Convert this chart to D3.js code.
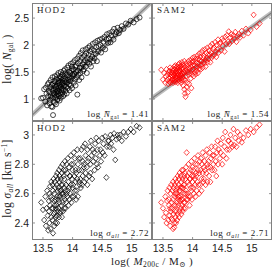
<!DOCTYPE html>
<html>
<head>
<meta charset="utf-8">
<script src="https://cdn.jsdelivr.net/npm/d3@7"></script>
<style>
  body { margin: 0; background: #fff; }
  text { fill: #222; }
  .serif { font-family: "Liberation Serif", "DejaVu Serif", serif; }
  .tick { font-family: "Liberation Sans", Arial, sans-serif; font-size: 10.5px; }
</style>
</head>
<body>
<script>
// halo masses, log(M200c / Msun), sorted
const logM = [
  13.47, 13.50, 13.52, 13.54, 13.55, 13.56, 13.57, 13.58, 13.59, 13.60,
  13.60, 13.61, 13.61, 13.62, 13.62, 13.63, 13.63, 13.64, 13.64, 13.65,
  13.65, 13.66, 13.66, 13.67, 13.67, 13.67, 13.68, 13.68, 13.69, 13.69,
  13.69, 13.70, 13.70, 13.70, 13.71, 13.71, 13.71, 13.72, 13.72, 13.72,
  13.73, 13.73, 13.73, 13.74, 13.74, 13.74, 13.75, 13.75, 13.75, 13.76,
  13.76, 13.76, 13.77, 13.77, 13.77, 13.78, 13.78, 13.78, 13.79, 13.79,
  13.79, 13.80, 13.80, 13.80, 13.81, 13.81, 13.81, 13.82, 13.82, 13.82,
  13.83, 13.83, 13.83, 13.84, 13.84, 13.85, 13.85, 13.85, 13.86, 13.86,
  13.86, 13.87, 13.87, 13.88, 13.88, 13.88, 13.89, 13.89, 13.90, 13.90,
  13.91, 13.91, 13.92, 13.92, 13.93, 13.93, 13.94, 13.94, 13.95, 13.95,
  13.96, 13.96, 13.97, 13.97, 13.98, 13.98, 13.99, 13.99, 14.00, 14.00,
  14.01, 14.01, 14.02, 14.02, 14.03, 14.04, 14.04, 14.05, 14.05, 14.06,
  14.06, 14.07, 14.08, 14.08, 14.09, 14.09, 14.10, 14.11, 14.11, 14.12,
  14.13, 14.13, 14.14, 14.15, 14.15, 14.16, 14.17, 14.17, 14.18, 14.19,
  14.19, 14.20, 14.21, 14.22, 14.22, 14.23, 14.24, 14.25, 14.25, 14.26,
  14.27, 14.28, 14.29, 14.30, 14.30, 14.31, 14.32, 14.33, 14.34, 14.35,
  14.36, 14.37, 14.38, 14.39, 14.40, 14.41, 14.42, 14.43, 14.44, 14.46,
  14.47, 14.48, 14.50, 14.51, 14.52, 14.54, 14.55, 14.57, 14.58, 14.60,
  14.61, 14.62, 14.64, 14.65, 14.67, 14.69, 14.70, 14.72, 14.74, 14.76,
  14.78, 14.80, 14.83, 14.86, 14.90, 14.94, 14.98, 15.03, 15.08, 15.13
];

// log N_gal, HOD2
const hodNgal = [
  1.01, 1.02, 1.18, 0.95, 1.21, 1.10, 0.88, 1.27, 1.05, 1.15,
  1.30, 0.92, 1.12, 1.22, 0.98, 1.35, 1.05, 0.86, 1.18, 1.26,
  1.02, 1.40, 0.85, 0.70, 1.15, 1.28, 0.95, 1.20, 1.08, 1.33,
  1.10, 0.93, 1.25, 1.42, 1.03, 1.18, 1.31, 0.90, 1.22, 1.12,
  1.37, 1.06, 1.24, 0.98, 1.15, 1.44, 1.28, 1.09, 1.00, 1.33,
  1.20, 1.48, 1.05, 1.30, 1.14, 1.38, 0.97, 1.26, 1.42, 1.10,
  1.32, 1.02, 1.22, 1.50, 1.16, 1.40, 1.08, 1.28, 1.35, 1.19,
  1.12, 1.45, 1.30, 1.05, 1.38, 1.24, 1.52, 1.18, 1.33, 1.08,
  1.42, 1.25, 1.55, 1.15, 1.36, 1.48, 1.22, 1.31, 1.10, 1.45,
  1.30, 1.58, 1.20, 1.44, 1.35, 1.62, 1.27, 1.50, 1.16, 1.40,
  1.48, 1.33, 1.65, 1.25, 1.52, 1.38, 1.60, 1.20, 1.45, 1.55,
  1.42, 1.68, 1.30, 1.55, 1.46, 1.72, 1.36, 1.60, 1.25, 1.50,
  1.62, 1.40, 1.75, 1.08, 1.52, 1.66, 1.45, 1.80, 1.35, 1.58,
  1.70, 1.48, 1.85, 1.58, 1.40, 1.76, 1.64, 1.90, 1.52, 1.68,
  1.55, 1.80, 1.72, 1.92, 1.60, 1.85, 1.48, 1.76, 1.68, 1.95,
  1.82, 1.65, 1.98, 1.74, 1.88, 1.60, 1.92, 1.78, 2.02, 1.70,
  1.90, 1.75, 2.05, 1.84, 1.96, 1.70, 2.08, 1.88, 1.98, 2.10,
  2.00, 1.86, 2.12, 1.95, 2.06, 2.15, 1.92, 2.10, 2.20, 2.04,
  2.12, 2.22, 2.05, 2.18, 2.25, 2.10, 2.30, 2.20, 2.24, 2.32,
  2.22, 2.28, 2.35, 2.30, 2.40, 2.38, 2.45, 2.42, 2.48, 2.51
];

// log N_gal, SAM2
const samNgal = [
  1.54, 1.36, 1.48, 1.30, 1.42, 1.55, 1.35, 1.45, 1.28, 1.50,
  1.38, 1.52, 1.32, 1.46, 1.58, 1.40, 1.30, 1.50, 1.44, 1.35,
  1.48, 1.36, 1.56, 1.42, 1.30, 1.52, 1.45, 1.38, 1.60, 1.33,
  1.44, 1.55, 1.35, 1.48, 1.40, 1.62, 1.31, 1.50, 1.42, 1.57,
  1.38, 1.52, 1.46, 1.34, 1.60, 1.42, 1.55, 1.30, 1.48, 1.64,
  1.45, 1.36, 1.58, 1.50, 1.40, 1.66, 1.33, 1.54, 1.44, 1.60,
  1.52, 1.38, 1.62, 1.46, 1.30, 1.56, 1.42, 1.68, 1.48, 1.35,
  1.40, 1.58, 1.46, 1.25, 1.64, 1.50, 1.36, 1.55, 1.18, 1.70,
  1.48, 1.10, 1.60, 1.35, 1.52, 1.04, 1.66, 1.42, 1.22, 1.56,
  1.62, 1.30, 1.50, 1.12, 1.70, 1.45, 1.58, 1.28, 1.55, 1.66,
  1.48, 1.72, 1.38, 1.60, 1.52, 1.20, 1.68, 1.45, 1.62, 1.76,
  1.55, 1.70, 1.42, 1.64, 1.78, 1.50, 1.62, 1.46, 1.74, 1.58,
  1.68, 1.52, 1.80, 1.60, 1.74, 1.48, 1.66, 1.84, 1.56, 1.72,
  1.62, 1.78, 1.55, 1.86, 1.70, 1.64, 1.90, 1.58, 1.76, 1.68,
  1.80, 1.66, 1.92, 1.72, 1.60, 1.85, 1.76, 1.95, 1.68, 1.82,
  1.74, 1.90, 1.82, 1.68, 1.98, 1.86, 1.76, 2.02, 1.80, 1.92,
  1.95, 1.82, 2.05, 1.88, 1.78, 2.00, 1.92, 2.10, 1.86, 2.02,
  2.05, 1.90, 2.12, 1.98, 2.08, 1.88, 2.15, 2.02, 2.18, 2.06,
  2.25, 2.02, 2.14, 2.20, 2.08, 2.18, 2.12, 2.24, 2.06, 2.16,
  2.20, 2.14, 2.26, 2.18, 2.30, 2.22, 2.28, 2.56, 2.34, 2.40
];

// log sigma_all [km/s], HOD2
const hodSigma = [
  2.54, 2.49, 2.42, 2.58, 2.38, 2.50, 2.62, 2.45, 2.35, 2.55,
  2.48, 2.60, 2.40, 2.65, 2.52, 2.36, 2.58, 2.44, 2.68, 2.50,
  2.56, 2.42, 2.66, 2.33, 2.50, 2.62, 2.46, 2.70, 2.38, 2.55,
  2.60, 2.47, 2.68, 2.52, 2.40, 2.64, 2.56, 2.44, 2.72, 2.50,
  2.52, 2.66, 2.45, 2.74, 2.58, 2.40, 2.62, 2.70, 2.48, 2.56,
  2.64, 2.50, 2.76, 2.58, 2.44, 2.68, 2.54, 2.72, 2.62, 2.47,
  2.58, 2.70, 2.48, 2.78, 2.62, 2.52, 2.66, 2.44, 2.74, 2.60,
  2.66, 2.54, 2.80, 2.60, 2.48, 2.72, 2.58, 2.76, 2.50, 2.64,
  2.70, 2.56, 2.82, 2.62, 2.50, 2.76, 2.66, 2.54, 2.80, 2.60,
  2.58, 2.74, 2.62, 2.84, 2.68, 2.52, 2.78, 2.64, 2.72, 2.56,
  2.72, 2.60, 2.86, 2.66, 2.54, 2.80, 2.70, 2.58, 2.76, 2.64,
  2.66, 2.80, 2.58, 2.88, 2.72, 2.62, 2.84, 2.68, 2.76, 2.56,
  2.74, 2.62, 2.90, 2.70, 2.80, 2.58, 2.84, 2.68, 2.76, 2.66,
  2.70, 2.84, 2.64, 2.90, 2.76, 2.66, 2.82, 2.72, 2.92, 2.78,
  2.80, 2.68, 2.94, 2.74, 2.86, 2.70, 2.78, 2.90, 2.66, 2.82,
  2.84, 2.72, 2.92, 2.80, 2.74, 2.96, 2.86, 2.70, 2.90, 2.82,
  2.88, 2.76, 2.94, 2.84, 2.98, 2.80, 2.90, 2.78, 2.96, 2.86,
  2.90, 2.82, 2.98, 2.88, 2.94, 2.86, 2.99, 2.71, 2.92, 2.96,
  2.96, 2.92, 3.00, 2.94, 2.98, 2.90, 3.01, 2.83, 2.97, 3.00,
  2.98, 3.00, 2.96, 3.02, 2.99, 3.02, 3.04, 3.02, 3.06, 3.05
];

// log sigma_all [km/s], SAM2
const samSigma = [
  2.54, 2.50, 2.44, 2.58, 2.47, 2.40, 2.55, 2.62, 2.42, 2.52,
  2.56, 2.45, 2.64, 2.50, 2.38, 2.60, 2.48, 2.66, 2.43, 2.54,
  2.50, 2.62, 2.42, 2.68, 2.36, 2.56, 2.46, 2.64, 2.52, 2.40,
  2.37, 2.58, 2.66, 2.48, 2.60, 2.44, 2.70, 2.52, 2.40, 2.62,
  2.60, 2.48, 2.68, 2.54, 2.42, 2.64, 2.58, 2.72, 2.46, 2.56,
  2.52, 2.66, 2.44, 2.70, 2.58, 2.62, 2.48, 2.74, 2.55, 2.64,
  2.62, 2.50, 2.72, 2.58, 2.46, 2.68, 2.56, 2.76, 2.52, 2.64,
  2.56, 2.70, 2.48, 2.64, 2.76, 2.54, 2.66, 2.50, 2.72, 2.60,
  2.66, 2.54, 2.74, 2.60, 2.50, 2.70, 2.62, 2.78, 2.56, 2.88,
  2.60, 2.72, 2.56, 2.68, 2.80, 2.58, 2.66, 2.74, 2.52, 2.70,
  2.70, 2.58, 2.76, 2.64, 2.82, 2.62, 2.72, 2.56, 2.78, 2.68,
  2.64, 2.76, 2.60, 2.72, 2.84, 2.66, 2.70, 2.58, 2.80, 2.74,
  2.72, 2.62, 2.80, 2.68, 2.76, 2.86, 2.66, 2.74, 2.60, 2.82,
  2.76, 2.66, 2.84, 2.70, 2.62, 2.80, 2.74, 2.88, 2.68, 2.78,
  2.70, 2.82, 2.76, 2.66, 2.86, 2.74, 2.90, 2.80, 2.68, 2.78,
  2.82, 2.72, 2.88, 2.78, 2.68, 2.84, 2.92, 2.76, 2.86, 2.80,
  2.86, 2.76, 2.92, 2.82, 2.72, 2.88, 2.96, 2.80, 2.90, 2.84,
  2.88, 2.94, 2.80, 2.98, 2.86, 2.92, 3.02, 2.84, 2.90, 2.96,
  2.96, 2.90, 3.00, 2.94, 2.92, 3.04, 2.93, 2.98, 2.92, 3.02,
  2.96, 3.00, 2.95, 2.98, 3.03, 3.00, 3.04, 3.02, 3.05, 3.07
];

// straight-line fits to log N_gal (value at logM = 14 and slope)
const fitAt14 = [1.41, 1.55];
const fitSlope = [1.04, 0.785];

const meanText = ["1.41", "1.54", "2.72", "2.71"];
const modelNames = ["HOD2", "SAM2"];

const xTicks = [13.5, 14, 14.5, 15];
const nTicks = [1, 1.5, 2, 2.5];
const sigmaTicks = [2.4, 2.6, 2.8, 3];

const width = 275, height = 270;
const marginLeft = 32, marginTop = 3, pw = 120;
const ph = [118, 119];

const svg = d3.select("body").append("svg")
  .attr("width", width)
  .attr("height", height);

const x = d3.scaleLinear().domain([13.315, 15.34]).range([0, pw]);
const yScales = [
  d3.scaleLinear().domain([0.59, 2.78]).range([ph[0], 0]),
  d3.scaleLinear().domain([2.284, 3.095]).range([ph[1], 0])
];
const yTickSets = [nTicks, sigmaTicks];

const panels = [
  { row: 0, col: 0, ys: hodNgal, color: "#000", shape: "circle" },
  { row: 0, col: 1, ys: samNgal, color: "#ff0000", shape: "diamond" },
  { row: 1, col: 0, ys: hodSigma, color: "#000", shape: "diamond" },
  { row: 1, col: 1, ys: samSigma, color: "#ff0000", shape: "diamond" }
];

const diamond = "M0,-2.9L2.6,0L0,2.9L-2.6,0Z";

panels.forEach((p, i) => {
  const y = yScales[p.row];
  const h = ph[p.row];
  const ox = marginLeft + p.col * pw;
  const oy = marginTop + (p.row === 0 ? 0 : ph[0]);
  const g = svg.append("g").attr("transform", `translate(${ox},${oy})`);

  g.append("clipPath").attr("id", "clip" + i)
    .append("rect").attr("width", pw).attr("height", h);

  const plot = g.append("g").attr("clip-path", `url(#clip${i})`);

  // fitted line (top row only)
  if (p.row === 0) {
    const line = x.domain().map(v => [x(v), y(fitAt14[p.col] + fitSlope[p.col] * (v - 14))]);
    plot.append("line")
      .attr("x1", line[0][0]).attr("y1", line[0][1])
      .attr("x2", line[1][0]).attr("y2", line[1][1])
      .attr("stroke", "#bdbdbd").attr("stroke-width", 4.5);
    plot.append("line")
      .attr("x1", line[0][0]).attr("y1", line[0][1])
      .attr("x2", line[1][0]).attr("y2", line[1][1])
      .attr("stroke", "#808080").attr("stroke-width", 1.2);
  }

  const pts = logM.map((m, k) => [m, p.ys[k]]);
  if (p.shape === "circle") {
    plot.selectAll("circle").data(pts).enter().append("circle")
      .attr("cx", d => x(d[0]))
      .attr("cy", d => y(d[1]))
      .attr("r", 2.5)
      .attr("fill", "none")
      .attr("stroke", p.color)
      .attr("stroke-width", 0.7);
  } else {
    plot.selectAll("path").data(pts).enter().append("path")
      .attr("d", diamond)
      .attr("transform", d => `translate(${x(d[0])},${y(d[1])})`)
      .attr("fill", "none")
      .attr("stroke", p.color)
      .attr("stroke-width", 0.7);
  }

  // inward ticks on all four sides
  const tk = 3;
  const tickG = g.append("g").attr("stroke", "#777").attr("stroke-width", 0.8);
  xTicks.forEach(t => {
    tickG.append("line").attr("x1", x(t)).attr("x2", x(t)).attr("y1", h).attr("y2", h - tk);
    tickG.append("line").attr("x1", x(t)).attr("x2", x(t)).attr("y1", 0).attr("y2", tk);
  });
  yTickSets[p.row].forEach(t => {
    tickG.append("line").attr("x1", 0).attr("x2", tk).attr("y1", y(t)).attr("y2", y(t));
    tickG.append("line").attr("x1", pw).attr("x2", pw - tk).attr("y1", y(t)).attr("y2", y(t));
  });

  g.append("rect")
    .attr("x", 0.5).attr("y", 0.5)
    .attr("width", pw - 1).attr("height", h - 1)
    .attr("fill", "none").attr("stroke", "#808080").attr("stroke-width", 1);

  // tick labels
  if (p.col === 0) {
    yTickSets[p.row].forEach(t => {
      g.append("text").attr("class", "tick")
        .attr("x", -3).attr("y", y(t) + 3.8)
        .attr("text-anchor", "end")
        .text(t);
    });
  }
  if (p.row === 1) {
    xTicks.forEach(t => {
      g.append("text").attr("class", "tick")
        .attr("x", x(t)).attr("y", h + 12)
        .attr("text-anchor", "middle")
        .text(t);
    });
  }

  // model name
  g.append("text").attr("class", "serif")
    .attr("x", 5).attr("y", 10)
    .attr("font-size", 9).attr("letter-spacing", 1.3)
    .text(modelNames[p.col]);

  // mean annotation
  const ann = g.append("text").attr("class", "serif")
    .attr("x", pw - 3).attr("y", h - 4)
    .attr("text-anchor", "end")
    .attr("font-size", 9).attr("letter-spacing", 0.6);
  ann.append("tspan").text("log ");
  if (p.row === 0) {
    ann.append("tspan").attr("font-style", "italic").text("N\u0304");
    ann.append("tspan").attr("font-size", 6).attr("dy", 2).text("gal");
  } else {
    ann.append("tspan").attr("font-style", "italic").text("\u03c3");
    ann.append("tspan").attr("font-size", 6).attr("font-style", "italic").attr("dy", 2).text("all");
  }
  ann.append("tspan").attr("dy", -2).text(" = " + meanText[i]);
});

// axis titles
const yl1 = svg.append("text").attr("class", "serif")
  .attr("transform", `translate(11,${marginTop + ph[0] / 2 - 3}) rotate(-90)`)
  .attr("text-anchor", "middle").attr("font-size", 11.5).attr("letter-spacing", 0.4);
yl1.append("tspan").text("log( ");
yl1.append("tspan").attr("font-style", "italic").text("N");
yl1.append("tspan").attr("font-size", 7.5).attr("dy", 2).text("gal");
yl1.append("tspan").attr("dy", -2).text(" )");

const yl2 = svg.append("text").attr("class", "serif")
  .attr("transform", `translate(11,${marginTop + ph[0] + ph[1] / 2 - 2}) rotate(-90)`)
  .attr("text-anchor", "middle").attr("font-size", 11.5).attr("letter-spacing", 0.4);
yl2.append("tspan").text("log ");
yl2.append("tspan").attr("font-style", "italic").text("\u03c3");
yl2.append("tspan").attr("font-size", 7.5).attr("font-style", "italic").attr("dy", 2).text("all");
yl2.append("tspan").attr("dy", -2).text(" [km s");
yl2.append("tspan").attr("font-size", 7.5).attr("dy", -4).text("\u22121");
yl2.append("tspan").attr("dy", 4).text("]");

const xl = svg.append("text").attr("class", "serif")
  .attr("x", marginLeft + pw).attr("y", 265)
  .attr("text-anchor", "middle").attr("font-size", 11).attr("letter-spacing", 0.4);
xl.append("tspan").text("log( ");
xl.append("tspan").attr("font-style", "italic").text("M");
xl.append("tspan").attr("font-size", 7.5).attr("dy", 2).text("200c");
xl.append("tspan").attr("dy", -2).text(" / M");
xl.append("tspan").attr("font-size", 7.5).attr("dy", 2).text("\u2299");
xl.append("tspan").attr("dy", -2).text(" )");
</script>
</body>
</html>
